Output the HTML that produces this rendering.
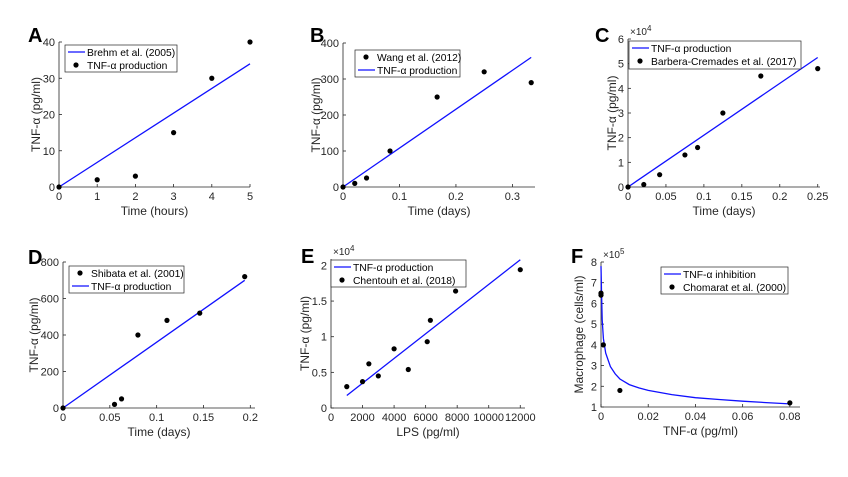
<!DOCTYPE html>
<html><head><meta charset="utf-8"><style>
html,body{margin:0;padding:0;background:#fff;}
svg{display:block;font-family:"Liberation Sans",sans-serif;}
</style></head><body>
<svg id="fig" width="848" height="477" viewBox="0 0 848 477"></svg>
<script>
// ---- Data arrays ----
const aDataX=[0,1,2,3,4,5];
const aDataY=[0,2,3,15,30,40];
const aFitX=[0,5];
const aFitY=[0,34];
const bDataX=[0,0.0208,0.0417,0.0833,0.1667,0.25,0.3333];
const bDataY=[0,10,25,100,250,320,290];
const bFitX=[0,0.3333];
const bFitY=[0,360];
const cDataX=[0,0.0208,0.0417,0.075,0.0917,0.125,0.175,0.25];
const cDataY=[0,0.1,0.5,1.3,1.6,3.0,4.5,4.8];
const cFitX=[0,0.25];
const cFitY=[0,5.25];
const dDataX=[0,0.055,0.0625,0.08,0.111,0.146,0.194];
const dDataY=[0,20,50,400,480,520,720];
const dFitX=[0,0.194];
const dFitY=[0,700];
const eDataX=[1000,2000,2400,3000,4000,4900,6100,6300,7900,12000];
const eDataY=[0.3,0.37,0.62,0.45,0.83,0.54,0.93,1.23,1.64,1.94];
const eFitX=[1000,12000];
const eFitY=[0.175,2.08];
const fDataX=[0,0,0.001,0.008,0.08];
const fDataY=[6.5,6.4,4.0,1.8,1.2];
const fFitX=[0,0.0002,0.0005,0.001,0.002,0.004,0.006,0.008,0.012,0.016,0.02,0.03,0.04,0.05,0.06,0.07,0.08];
const fFitY=[7.8,6.6,5.2,4.3,3.6,2.95,2.6,2.35,2.08,1.92,1.8,1.6,1.45,1.36,1.28,1.21,1.15];
const aTicksX=[0,1,2,3,4,5], aTicksY=[0,10,20,30,40];
const bTicksX=[0,0.1,0.2,0.3], bTicksY=[0,100,200,300,400];
const cTicksX=[0,0.05,0.1,0.15,0.2,0.25], cTicksY=[0,1,2,3,4,5,6];
const dTicksX=[0,0.05,0.1,0.15,0.2], dTicksY=[0,200,400,600,800];
const eTicksX=[0,2000,4000,6000,8000,10000,12000], eTicksY=[0,0.5,1,1.5,2];
const fTicksX=[0,0.02,0.04,0.06,0.08], fTicksY=[1,2,3,4,5,6,7,8];

const NS="http://www.w3.org/2000/svg";
const svg=document.getElementById('fig');
function mk(tag,attrs,parent){const e=document.createElementNS(NS,tag);for(const k in attrs)e.setAttribute(k,attrs[k]);(parent||svg).appendChild(e);return e;}
function fmt(v){return String(v);}

function panel(p){
  const g=mk('g',{});
  
  
  const sx=v=>p.L+(v-p.x0)/(p.x1-p.x0)*(p.R-p.L);
  const sy=v=>p.B-(v-p.y0)/(p.y1-p.y0)*(p.B-p.T);
  const ax=mk('path',{d:`M${p.L},${p.T} L${p.L},${p.B} L${p.R},${p.B}`,fill:'none',stroke:'#262626','stroke-width':0.8},g);
  
  
  p.tx.forEach(v=>{
    const x=sx(v);
    mk('line',{x1:x,y1:p.B,x2:x,y2:p.B-3,stroke:'#262626','stroke-width':0.8},g);
    const t=mk('text',{x:x,y:p.B+13,'text-anchor':'middle','font-size':11,fill:'#262626'},g);
    t.textContent=fmt(v);
    
    
  });
  p.ty.forEach(v=>{
    const y=sy(v);
    mk('line',{x1:p.L,y1:y,x2:p.L+3,y2:y,stroke:'#262626','stroke-width':0.8},g);
    const t=mk('text',{x:p.L-4,y:y+4,'text-anchor':'end','font-size':11,fill:'#262626'},g);
    t.textContent=fmt(v);
    
    
  });
  if(p.exp){
    const t=mk('text',{x:p.L+2,y:p.T-4,'font-size':10,fill:'#262626'},g);
    t.innerHTML='×10<tspan dy="-4" font-size="8">'+p.exp+'</tspan>';
    
    
  }
  const d=p.fx.map((v,i)=>(i?'L':'M')+sx(v).toFixed(1)+','+sy(p.fy[i]).toFixed(1)).join(' ');
  const ln=mk('path',{d:d,fill:'none',stroke:'#1010ff','stroke-width':1.3},g);
  
  
  p.dx.forEach((v,i)=>{
    const c=mk('circle',{cx:sx(v),cy:sy(p.dy[i]),r:2.6,fill:'#000'},g);
    
    
  });
  const xl=mk('text',{x:(p.L+p.R)/2,y:p.B+28,'text-anchor':'middle','font-size':12,fill:'#262626'},g);
  xl.textContent=p.xlab;
  
  
  const yl=mk('text',{x:0,y:0,'text-anchor':'middle','font-size':12,fill:'#262626',transform:`translate(${p.ylx},${(p.T+p.B)/2}) rotate(-90)`},g);
  yl.textContent=p.ylab;
  
  
  const lt=mk('text',{x:p.lx,y:p.ly,'font-size':20,'font-weight':'bold',fill:'#000'},g);
  lt.textContent=p.id;
  
  
  const lg=mk('g',{},g);
  
  
  mk('rect',{x:p.lg[0],y:p.lg[1],width:p.lg[2],height:p.lg[3],fill:'#fff',stroke:'#262626','stroke-width':0.7},lg);
  p.leg.forEach((e,i)=>{
    const y=p.lg[1]+7+i*13;
    if(e.t==='line') mk('line',{x1:p.lg[0]+3,y1:y,x2:p.lg[0]+20,y2:y,stroke:'#1010ff','stroke-width':1.3},lg);
    else mk('circle',{cx:p.lg[0]+11,cy:y,r:2.6,fill:'#000'},lg);
    const t=mk('text',{x:p.lg[0]+22,y:y+4,'font-size':10.3,fill:'#000'},lg);
    t.textContent=e.s;
    
    
  });
}
const T='TNF-α production';
panel({id:'A',L:59,R:250,T:42,B:187,x0:0,x1:5,y0:0,y1:40,tx:aTicksX,ty:aTicksY,dx:aDataX,dy:aDataY,fx:aFitX,fy:aFitY,xlab:'Time (hours)',ylab:'TNF-α (pg/ml)',ylx:40,lx:28,ly:42,lg:[65,45,112,27],leg:[{t:'line',s:'Brehm et al. (2005)'},{t:'dot',s:T}]});
panel({id:'B',L:343,R:535,T:43,B:187,x0:0,x1:0.34,y0:0,y1:400,tx:bTicksX,ty:bTicksY,dx:bDataX,dy:bDataY,fx:bFitX,fy:bFitY,xlab:'Time (days)',ylab:'TNF-α (pg/ml)',ylx:320,lx:310,ly:42,lg:[355,50,105,27],leg:[{t:'dot',s:'Wang et al. (2012)'},{t:'line',s:T}]});
panel({id:'C',L:628,R:820,T:39,B:187,x0:0,x1:0.253,y0:0,y1:6,tx:cTicksX,ty:cTicksY,dx:cDataX,dy:cDataY,fx:cFitX,fy:cFitY,exp:4,xlab:'Time (days)',ylab:'TNF-α (pg/ml)',ylx:616,lx:595,ly:42,lg:[629,41,172,28],leg:[{t:'line',s:T},{t:'dot',s:'Barbera-Cremades et al. (2017)'}]});
panel({id:'D',L:63,R:255,T:262,B:408,x0:0,x1:0.205,y0:0,y1:800,tx:dTicksX,ty:dTicksY,dx:dDataX,dy:dDataY,fx:dFitX,fy:dFitY,xlab:'Time (days)',ylab:'TNF-α (pg/ml)',ylx:38,lx:28,ly:264,lg:[69,266,115,27],leg:[{t:'dot',s:'Shibata et al. (2001)'},{t:'line',s:T}]});
panel({id:'E',L:331,R:525,T:259,B:408,x0:0,x1:12300,y0:0,y1:2.09,tx:eTicksX,ty:eTicksY,dx:eDataX,dy:eDataY,fx:eFitX,fy:eFitY,exp:4,xlab:'LPS (pg/ml)',ylab:'TNF-α (pg/ml)',ylx:309,lx:301,ly:263,lg:[331,260,135,27],leg:[{t:'line',s:T},{t:'dot',s:'Chentouh et al. (2018)'}]});
panel({id:'F',L:601,R:800,T:262,B:407,x0:0,x1:0.0843,y0:1,y1:8,tx:fTicksX,ty:fTicksY,dx:fDataX,dy:fDataY,fx:fFitX,fy:fFitY,exp:5,xlab:'TNF-α (pg/ml)',ylab:'Macrophage (cells/ml)',ylx:583,lx:571,ly:263,lg:[661,267,127,27],leg:[{t:'line',s:'TNF-α inhibition'},{t:'dot',s:'Chomarat et al. (2000)'}]});
</script>
</body></html>
